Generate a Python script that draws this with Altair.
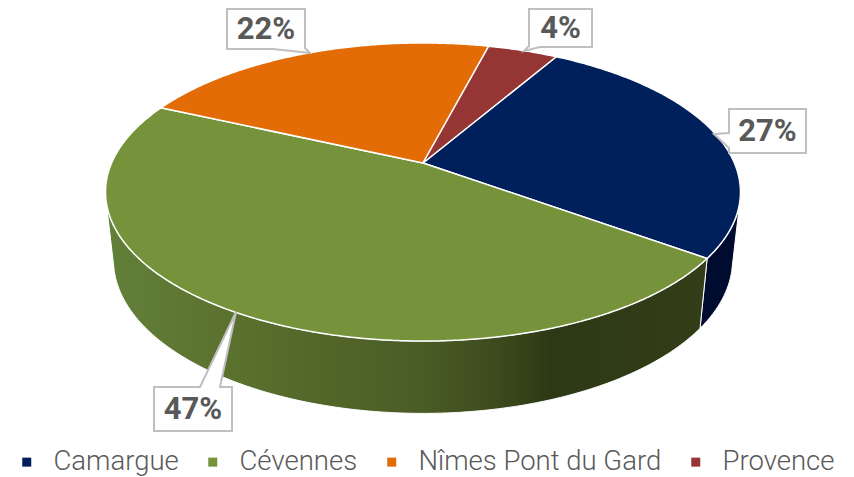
import math
import altair as alt

# ---- data ----
names = ["Camargue", "Cévennes", "Nîmes Pont du Gard", "Provence"]
shares = [26.7, 46.8, 22.2, 4.3]
top_colors = ["#00205b", "#76923b", "#e36c06", "#963634"]

# ---- pie geometry ----
START = 30.0
CX, CY = 423.0, 163.0
A, B, P = 311.4, 143.4, -0.1946
DEPTH, SX, SY = 67.0, 0.975, 1.03
FRONT = (105.0, 255.0)
INK = "#595959"
EDGE = "#bfbfbf"


def top_pt(deg):
    t = math.radians(deg)
    u, v = math.sin(t), -math.cos(t)
    w = 1 + P * v
    return [CX + A * u / w, CY + B * v / w]


def base_pt(deg):
    x, y = top_pt(deg)
    return [CX + (x - CX) * SX, CY + DEPTH + (y - CY) * SY]


def angles(a0, a1):
    n = max(2, int(abs(a1 - a0) * 2))
    return [a0 + (a1 - a0) * i / n for i in range(n + 1)]


def feature(ring, name):
    return {"type": "Feature", "properties": {"name": name},
            "geometry": {"type": "Polygon", "coordinates": [ring + [ring[0]]]}}


spans = []
a = START
for s in shares:
    spans.append((a, a + s * 3.6))
    a += s * 3.6

top_features = [
    feature([[CX, CY]] + [top_pt(d) for d in angles(*sp)], n)
    for sp, n in zip(spans, names)
]


def wall(sp, name):
    ds = angles(max(sp[0], FRONT[0]), min(sp[1], FRONT[1]))
    return feature([top_pt(d) for d in ds] + [base_pt(d) for d in reversed(ds)], name)


proj = alt.Projection(type="identity", scale=1, translate=[-8, -8])

x0, x1 = 105.0, 708.0
green_stops = [(105, "#62803a"), (200, "#5d7530"), (300, "#55692a"), (423, "#4a5c25"),
               (500, "#3b4a1d"), (550, "#2d3915"), (708, "#333e18")]
green_fill = alt.Gradient(
    gradient="linear", x1=0, x2=1, y1=0, y2=0,
    stops=[alt.GradientStop(offset=(x - x0) / (x1 - x0), color=c) for x, c in green_stops],
)

wall_camargue = alt.Chart(alt.Data(values=[wall(spans[0], names[0])])).mark_geoshape(
    fill="#000b30", stroke="#ffffff", strokeWidth=1).project(**proj.to_dict())
wall_cevennes = alt.Chart(alt.Data(values=[wall(spans[1], names[1])])).mark_geoshape(
    fill=green_fill, stroke="#ffffff", strokeWidth=1).project(**proj.to_dict())

tops = alt.Chart(alt.Data(values=top_features)).mark_geoshape(
    stroke="#ffffff", strokeWidth=1.5
).encode(
    color=alt.Color(
        "properties.name:N",
        scale=alt.Scale(domain=names, range=top_colors),
        legend=alt.Legend(
            title=None, orient="none", legendX=5, legendY=440, direction="horizontal",
            symbolType="square", symbolSize=81, symbolStrokeWidth=0,
            labelFont="Roboto", labelFontSize=27.5, labelFontWeight=300, labelColor=INK,
            labelOffset=13, columnPadding=20, labelLimit=400,
        ),
    )
).project(**proj.to_dict())

# ---- data labels: callout boxes ----
callouts = [
    (names[0], [[729, 109], [806, 109], [806, 153], [729, 153], [729, 148], [714, 134], [729, 133]]),
    (names[1], [[154, 387], [200, 387], [236, 312], [220, 387], [232, 387], [232, 431], [154, 431]]),
    (names[2], [[227, 9], [305, 9], [305, 48], [310, 53], [273, 49], [227, 49]]),
    (names[3], [[529, 9], [592, 9], [592, 47], [540, 47], [524, 51], [529, 46]]),
]
boxes = alt.Chart(alt.Data(values=[feature(r, n) for n, r in callouts])).mark_geoshape(
    fill="#ffffff", stroke=EDGE, strokeWidth=2).project(**proj.to_dict())

label_xy = [(767.5, 132), (193, 410), (266, 30), (560.5, 29)]
label_layers = [
    alt.Chart(alt.Data(values=[{"t": f"{round(s)}%"}])).mark_text(
        font="Roboto", fontWeight="bold", fontSize=31, color=INK,
        align="center", baseline="middle",
    ).encode(x=alt.value(x - 8), y=alt.value(y - 8), text="t:N")
    for s, (x, y) in zip(shares, label_xy)
]

chart = alt.layer(wall_camargue, wall_cevennes, tops, boxes, *label_layers).properties(
    width=838, height=469, padding=0, autosize=alt.AutoSizeParams(type="none"),
    background="#ffffff",
).configure_view(stroke=None)

chart.save("out.html", embed_options={"renderer": "svg", "actions": False})
